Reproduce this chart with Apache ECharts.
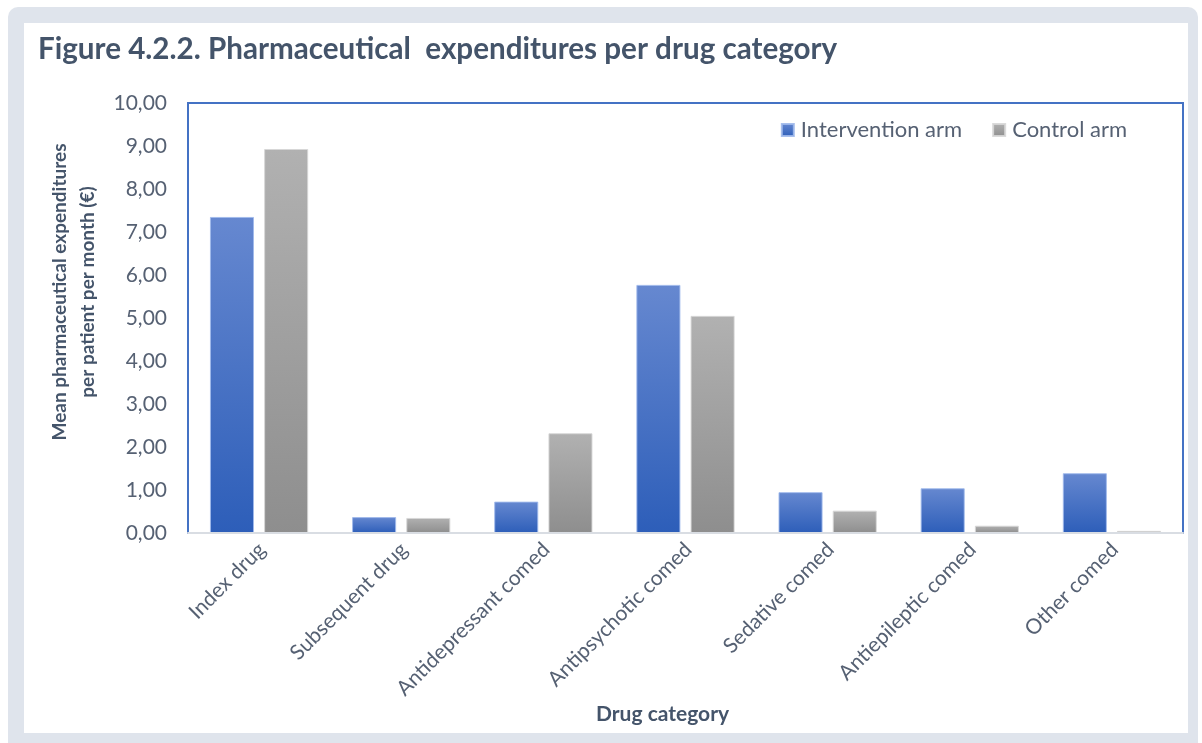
<!DOCTYPE html>
<html>
<head>
<meta charset="utf-8">
<script src="https://cdn.jsdelivr.net/npm/echarts@6/dist/echarts.min.js"></script>
<style>
  html, body { margin: 0; padding: 0; background: #ffffff; }
  #chart { width: 1202px; height: 743px; }
</style>
</head>
<body>
<div id="chart"></div>
<script>
// Drug categories on the x axis
const categories = [
  'Index drug', 'Subsequent drug', 'Antidepressant comed',
  'Antipsychotic comed', 'Sedative comed', 'Antiepileptic comed', 'Other comed'
];
// Mean expenditure per patient per month (€)
const interventionArm = [7.35, 0.37, 0.73, 5.77, 0.95, 1.04, 1.39];
const controlArm = [8.93, 0.35, 2.32, 5.05, 0.52, 0.17, 0.05];
// Y axis range
const yMin = 0, yMax = 10, yStep = 1;

const textColor = '#566173';
const font = 'Lato, "Open Sans", sans-serif';

const fmt = v => v.toFixed(2).replace('.', ',');

const blueFill = new echarts.graphic.LinearGradient(0, 0, 0, 1, [
  { offset: 0, color: '#6688d0' },
  { offset: 1, color: '#2d5eb9' }
]);
const greyFill = new echarts.graphic.LinearGradient(0, 0, 0, 1, [
  { offset: 0, color: '#b1b1b1' },
  { offset: 1, color: '#8e8e8e' }
]);

const chart = echarts.init(document.getElementById('chart'), null, { renderer: 'canvas' });

chart.setOption({
  animation: false,
  backgroundColor: '#ffffff',
  textStyle: { fontFamily: font },
  graphic: [
    { type: 'rect', z: -10, silent: true,
      shape: { x: 8, y: 7, width: 1190, height: 760, r: 10 },
      style: { fill: '#dfe4ec' } },
    { type: 'rect', z: -9, silent: true,
      shape: { x: 24, y: 23, width: 1164, height: 710 },
      style: { fill: '#ffffff' } },
    { type: 'text', left: 38, top: 34,
      style: { text: 'Figure 4.2.2. Pharmaceutical  expenditures per drug category',
        fill: '#44546a', font: 'bold 29.6px ' + font } },
    { type: 'text', left: 596, top: 704,
      style: { text: 'Drug category', fill: '#44546a', font: 'bold 21px ' + font } },
    { type: 'text', x: 74, y: 292, rotation: Math.PI / 2, silent: true,
      style: { text: 'Mean pharmaceutical expenditures\nper patient per month (€)',
        fill: '#44546a', font: 'bold 19px ' + font, align: 'center',
        verticalAlign: 'middle', lineHeight: 28 } }
  ],
  legend: {
    top: 114, right: 70,
    itemWidth: 12, itemHeight: 12, itemGap: 30,
    icon: 'rect',
    textStyle: { color: textColor, fontSize: 22, fontFamily: font, padding: [0, 0, 0, 2] },
    data: ['Intervention arm', 'Control arm']
  },
  grid: {
    left: 188, top: 103, right: 19, bottom: 210,
    show: true, borderColor: '#4472c4', borderWidth: 2, backgroundColor: 'transparent'
  },
  xAxis: {
    type: 'category',
    data: categories,
    z: 5,
    axisLine: { show: true, lineStyle: { color: '#d9dde3', width: 2 } },
    axisTick: { show: false },
    axisLabel: {
      rotate: 45, color: textColor, fontSize: 21, fontFamily: font, margin: 16,
      interval: 0, padding: [0, -4, 0, 0]
    }
  },
  yAxis: {
    type: 'value',
    min: yMin, max: yMax, interval: yStep,
    axisLine: { show: false },
    axisTick: { show: false },
    splitLine: { show: false },
    axisLabel: { color: textColor, fontSize: 21, fontFamily: font, margin: 21,
      formatter: fmt }
  },
  series: [
    { name: 'Intervention arm', type: 'bar', data: interventionArm,
      barWidth: '31%', barGap: '23%',
      itemStyle: { color: blueFill, borderColor: 'rgba(160,185,235,0.9)', borderWidth: 1 } },
    { name: 'Control arm', type: 'bar', data: controlArm,
      barWidth: '31%',
      itemStyle: { color: greyFill, borderColor: 'rgba(215,215,215,0.9)', borderWidth: 1 } }
  ]
});
</script>
</body>
</html>
